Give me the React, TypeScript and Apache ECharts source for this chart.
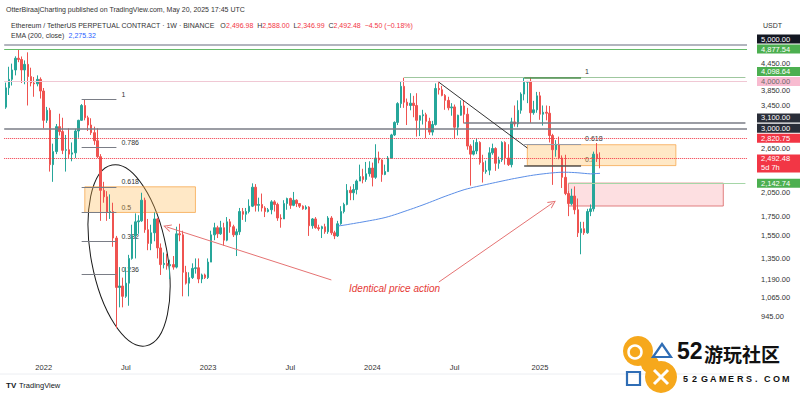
import React, { useEffect, useRef } from 'react';
import * as echarts from 'echarts';

// ---------- DATA ----------
const firstWeekUTC = Date.UTC(2021, 9, 11); // 2021-10-11, first weekly bar
const weeksOnAxis = 235; // includes empty future weeks on the right

// weekly OHLC as [open, close, low, high]
const ohlc2021 = [
  [3415, 3845, 3380, 3970], [3845, 4050, 3680, 4375], [4050, 4290, 3900, 4460], [4290, 4610, 4150, 4665],
  [4610, 4575, 4500, 4868], [4575, 4290, 3960, 4660], [4290, 4440, 3930, 4550], [4440, 4120, 3450, 4780],
  [4120, 3960, 3880, 4350], [3960, 3940, 3640, 4110], [3940, 4050, 3880, 4150], [4050, 3770, 3600, 4100],
];
const ohlc2022 = [
  [3770, 3150, 3000, 3840], [3150, 3350, 3100, 3420], [3350, 2400, 2300, 3400], [2400, 2600, 2160, 2730],
  [2600, 3030, 2560, 3080], [3030, 2940, 2870, 3280], [2940, 2620, 2560, 3200], [2620, 2630, 2300, 2880],
  [2630, 2560, 2500, 3000], [2560, 2580, 2450, 2750], [2580, 2950, 2500, 2990], [2950, 3150, 2830, 3160],
  [3150, 3450, 3140, 3480], [3450, 3200, 3150, 3580], [3200, 3060, 2950, 3240], [3060, 2920, 2880, 3190],
  [2920, 2780, 2710, 3030], [2780, 2520, 2500, 3000], [2520, 2050, 1700, 2560], [2050, 1970, 1900, 2160],
  [1970, 1790, 1700, 2040], [1790, 1800, 1720, 2000], [1800, 1530, 1450, 1900], [1530, 1130, 880, 1550],
  [1130, 1140, 1000, 1280], [1140, 1070, 1000, 1200], [1070, 1160, 1060, 1280], [1160, 1350, 1010, 1380],
  [1350, 1550, 1340, 1660], [1550, 1690, 1350, 1780], [1690, 1700, 1570, 1760], [1700, 1930, 1690, 2020],
  [1930, 1610, 1580, 1960], [1610, 1480, 1420, 1720], [1480, 1580, 1420, 1660], [1580, 1720, 1500, 1790],
  [1720, 1440, 1350, 1730], [1440, 1300, 1220, 1480], [1300, 1310, 1270, 1400], [1310, 1290, 1260, 1390],
  [1290, 1300, 1190, 1340], [1300, 1280, 1260, 1370], [1280, 1570, 1270, 1640], [1570, 1560, 1500, 1670],
  [1560, 1240, 1070, 1600], [1240, 1160, 1150, 1290], [1160, 1200, 1070, 1240], [1200, 1270, 1190, 1310],
  [1270, 1275, 1230, 1350], [1275, 1190, 1160, 1350], [1190, 1220, 1160, 1230], [1220, 1200, 1190, 1230],
];
const ohlc2023 = [
  [1200, 1320, 1190, 1350], [1320, 1560, 1320, 1600], [1560, 1630, 1510, 1680], [1630, 1570, 1530, 1650],
  [1570, 1630, 1560, 1700], [1630, 1510, 1460, 1680], [1510, 1690, 1500, 1740], [1690, 1640, 1580, 1720],
  [1640, 1560, 1540, 1660], [1560, 1590, 1370, 1620], [1590, 1800, 1560, 1840], [1800, 1770, 1710, 1840],
  [1770, 1800, 1690, 1840], [1800, 1860, 1780, 1940], [1860, 2090, 1850, 2140], [2090, 1870, 1800, 2130],
  [1870, 1880, 1800, 1960], [1880, 1840, 1800, 2010], [1840, 1800, 1740, 1860], [1800, 1820, 1790, 1840],
  [1820, 1910, 1770, 1930], [1910, 1880, 1800, 1930], [1880, 1730, 1700, 1900], [1730, 1720, 1630, 1770],
  [1720, 1890, 1720, 1930], [1890, 1950, 1820, 1960], [1950, 1870, 1830, 1960], [1870, 1930, 1860, 2030],
  [1930, 1890, 1850, 1940], [1890, 1860, 1840, 1890], [1860, 1830, 1820, 1870], [1830, 1850, 1820, 1870],
  [1850, 1650, 1550, 1860], [1650, 1720, 1620, 1730], [1720, 1630, 1620, 1740], [1630, 1620, 1600, 1660],
  [1620, 1640, 1530, 1650], [1640, 1590, 1570, 1670], [1590, 1730, 1570, 1750], [1730, 1580, 1560, 1750],
  [1580, 1550, 1520, 1600], [1550, 1670, 1540, 1700], [1670, 1800, 1660, 1860], [1800, 1880, 1780, 1900],
  [1880, 2050, 1870, 2130], [2050, 2020, 1930, 2100], [2020, 2060, 1930, 2130], [2060, 2170, 2000, 2190],
  [2170, 2230, 2170, 2400], [2230, 2190, 2140, 2340], [2190, 2270, 2160, 2440], [2270, 2350, 2230, 2450],
];
const ohlc2024 = [
  [2350, 2220, 2100, 2430], [2220, 2500, 2200, 2720], [2500, 2470, 2420, 2600], [2470, 2260, 2160, 2480],
  [2260, 2300, 2250, 2400], [2300, 2500, 2300, 2530], [2500, 2880, 2490, 2900], [2880, 3110, 2860, 3130],
  [3110, 3490, 3060, 3520], [3490, 3880, 3400, 3990], [3880, 3520, 3400, 4090], [3520, 3450, 3060, 3600],
  [3450, 3500, 3350, 3720], [3500, 3450, 3210, 3660], [3450, 3150, 2850, 3720], [3150, 3240, 2860, 3250],
  [3240, 3260, 3070, 3360], [3260, 3130, 2820, 3300], [3130, 2930, 2880, 3200], [2930, 3070, 2870, 3140],
  [3070, 3830, 3050, 3950], [3830, 3800, 3690, 3980], [3800, 3670, 3650, 3890], [3670, 3560, 3360, 3700],
  [3560, 3400, 3350, 3640], [3400, 3420, 3240, 3500], [3420, 3020, 2810, 3470], [3020, 3250, 2870, 3260],
  [3250, 3440, 3240, 3560], [3440, 3270, 3090, 3560], [3270, 2690, 2630, 3400], [2690, 2560, 2110, 2720],
  [2560, 2610, 2540, 2790], [2610, 2750, 2560, 2820], [2750, 2430, 2400, 2770], [2430, 2300, 2150, 2550],
  [2300, 2320, 2270, 2460], [2320, 2580, 2250, 2670], [2580, 2650, 2550, 2730], [2650, 2420, 2310, 2670],
  [2420, 2470, 2340, 2520], [2470, 2750, 2440, 2770], [2750, 2500, 2400, 2770], [2500, 2400, 2380, 2720],
  [2400, 3120, 2360, 3200], [3120, 3080, 3030, 3450], [3080, 3350, 3020, 3560], [3350, 3700, 3280, 3740],
  [3700, 3980, 3560, 4100], [3980, 4000, 3500, 4010], [4000, 3300, 3100, 4110], [3300, 3360, 3260, 3550],
  [3360, 3660, 3300, 3750],
];
const ohlc2025 = [
  [3660, 3270, 3160, 3750], [3270, 3310, 3050, 3450], [3310, 3290, 3150, 3450], [3290, 2870, 2750, 3440],
  [2870, 2630, 2120, 2900], [2630, 2720, 2520, 2790], [2720, 2500, 2480, 2850], [2500, 2220, 2080, 2540],
  [2220, 2010, 1990, 2550], [2010, 1890, 1750, 2040], [1890, 1980, 1870, 2070], [1980, 1820, 1770, 2100],
  [1820, 1580, 1540, 1950], [1580, 1620, 1385, 1690], [1620, 1580, 1560, 1690], [1580, 1800, 1570, 1830],
  [1800, 1830, 1750, 1880], [1830, 2560, 1800, 2600], [2560, 2490, 2440, 2740], [2496.98, 2492.48, 2346.99, 2588.0],
];
const lastBar = { open: 2496.98, high: 2588.0, low: 2346.99, close: 2492.48, change: -4.5, changePct: -0.18 };

// EMA(200, close), weekly, starting at this bar
const emaStartDate = '2023-10-16';
const ema200 = [
  1647, 1651, 1656, 1661, 1667, 1672, 1678, 1683, 1689, 1695, 1701, 1707, 1713, 1720, 1727, 1735,
  1744, 1754, 1765, 1776, 1788, 1800, 1812, 1824, 1836, 1849, 1862, 1875, 1889, 1903, 1917, 1932,
  1947, 1962, 1976, 1990, 2004, 2018, 2032, 2045, 2058, 2069, 2079, 2089, 2098, 2107, 2116, 2125,
  2134, 2143, 2152, 2161, 2170, 2179, 2188, 2197, 2205, 2213, 2221, 2229, 2237, 2244, 2251, 2257,
  2263, 2268, 2273, 2278, 2282, 2286, 2289, 2291, 2291, 2290, 2288, 2286, 2283, 2279, 2275, 2271,
  2268, 2270, 2273, 2275.32,
];

// price scale
const axisTicks = [4450, 3850, 3450, 2650, 2050, 1750, 1550, 1350, 1190, 1065, 945];
const badgeValues = [5000, 4877.54, 4098.64, 4000, 3100, 3000, 2820.75, 2492.48, 2142.74];
const badgeKinds = ['black', 'green', 'green', 'pink', 'dark', 'dark', 'red', 'red', 'green'];
const countdown = '5d 7h';

// drawings
const fullLines = [5000, 4877.54, 4000, 3000, 2820.75, 2492.48];
const rayLines = [
  { from: '2024-03-11', value: 4098.64 },
  { from: '2024-07-22', value: 3100 },
  { from: '2025-03-10', value: 2142.74 },
];
const fibLeftLevels = [3590, 2665, 2095, 1790, 1500, 1225];
const fibLeftNames = ['1', '0.786', '0.618', '0.5', '0.382', '0.236'];
const fibLeftSpan = ['2022-03-28', '2022-06-13'];
const fibRightLevels = [4100, 2712, 2386];
const fibRightNames = ['1', '0.618', '0.5'];
const fibRightSpan = ['2024-12-02', '2025-04-07'];
const boxes = [
  { kind: 'zone', from: '2022-04-04', to: '2022-12-05', top: 2095, bottom: 1790 },
  { kind: 'zone', from: '2024-12-09', to: '2025-11-03', top: 2712, bottom: 2386 },
  { kind: 'supply', from: '2025-03-10', to: '2026-02-16', top: 2142.74, bottom: 1862 },
];
const trendLine = [{ date: '2024-05-27', value: 3980 }, { date: '2024-12-09', value: 2658 }];
const arrows = [
  [{ date: '2023-10-02', value: 1183 }, { date: '2022-10-03', value: 1637 }],
  [{ date: '2024-05-27', value: 1168 }, { date: '2025-02-03', value: 1897 }],
];
const noteText = 'Identical price action';
const notePoint = { date: '2024-02-19', value: 1126 };
const ellipseCenter = { date: '2022-07-11', value: 1375 };

// ---------- HELPERS ----------
const dates: string[] = [];
for (let i = 0; i < weeksOnAxis; i++) {
  dates.push(new Date(firstWeekUTC + i * 7 * 86400000).toISOString().slice(0, 10));
}
const ohlc = [...ohlc2021, ...ohlc2022, ...ohlc2023, ...ohlc2024, ...ohlc2025];
const lastIndex = ohlc.length - 1;
const emaStartIdx = dates.indexOf(emaStartDate);
const emaData = ohlc.map((_, i) => (i >= emaStartIdx ? ema200[i - emaStartIdx] : null));
const idx = (d: string) => dates.indexOf(d);
const fmt = (v: number) => v.toLocaleString('en-US', { minimumFractionDigits: 2, maximumFractionDigits: 2 });

const UP = '#26a69a';
const DOWN = '#ef5350';
const FONT = '"Liberation Sans", Arial, sans-serif';
const badgeStyle: Record<string, { bg: string; fg: string }> = {
  black: { bg: '#131722', fg: '#ffffff' },
  green: { bg: '#4caf50', fg: '#ffffff' },
  pink: { bg: '#f8bbd0', fg: '#6b6b6b' },
  dark: { bg: '#2a2e39', fg: '#ffffff' },
  red: { bg: '#f23645', fg: '#ffffff' },
};
const badgeNudge = [-6, 0, -6, 0, -5, 0, 0, 5, 0];
const tickNudge: Record<number, number> = { 3850: 3, 2050: 2 };
const fullLineStyle = [
  { color: '#b2b5be', width: 2, type: 'solid' },
  { color: '#66bb6a', width: 1, type: 'solid' },
  { color: '#f0c8d4', width: 1, type: 'solid' },
  { color: '#7a7d86', width: 1.5, type: 'solid' },
  { color: '#f23645', width: 1, type: 'dotted' },
  { color: '#f23645', width: 1, type: 'dotted' },
];
const rayStyle = [
  { color: '#9fc79f', width: 1, type: 'solid' },
  { color: '#7a7d86', width: 1.5, type: 'solid' },
  { color: '#a5d6a7', width: 1, type: 'solid' },
];
const chevron = 'path://M0,10 L5,0 L10,10 L8.6,10 L5,2.8 L1.4,10 Z';

export default function App() {
  const ref = useRef<HTMLDivElement>(null);

  useEffect(() => {
    if (!ref.current) return;
    const chart = echarts.init(ref.current, undefined, { renderer: 'svg' });

    const lastCat = dates[weeksOnAxis - 1];

    const option: any = {
      animation: false,
      backgroundColor: '#ffffff',
      grid: { left: 4.2, right: 53, top: 30, bottom: 39 },
      xAxis: {
        type: 'category',
        data: dates,
        boundaryGap: true,
        axisLine: { show: false },
        axisTick: { show: false },
        splitLine: { show: false },
        axisLabel: {
          margin: 7,
          fontSize: 7.5,
          color: '#333',
          fontFamily: FONT,
          interval: (i: number, v: string) =>
            i <= lastIndex && (v.slice(5, 7) === '01' || v.slice(5, 7) === '07') && Number(v.slice(8)) <= 7,
          formatter: (v: string) => (v.slice(5, 7) === '01' ? v.slice(0, 4) : 'Jul'),
        },
      },
      yAxis: {
        type: 'log',
        logBase: 10,
        min: 742,
        max: 5482,
        position: 'right',
        axisLine: { show: false },
        axisTick: { show: false },
        axisLabel: { show: false },
        splitLine: { show: false },
      },
      series: [
        {
          type: 'candlestick',
          data: ohlc,
          barWidth: 2,
          itemStyle: { color: UP, color0: DOWN, borderColor: UP, borderColor0: DOWN, borderWidth: 1 },
          markArea: {
            silent: true,
            data: boxes.map((b) => [
              {
                coord: [idx(b.from), b.top],
                itemStyle:
                  b.kind === 'zone'
                    ? { color: 'rgba(255,183,77,0.32)', borderColor: 'rgba(245,158,60,0.7)', borderWidth: 1 }
                    : { color: 'rgba(242,54,69,0.16)', borderColor: 'rgba(214,90,90,0.75)', borderWidth: 1 },
              },
              { coord: [idx(b.to), b.bottom] },
            ]),
          },
          markLine: {
            silent: true,
            symbol: ['none', 'none'],
            label: { show: false },
            data: fullLines.map((v, i) => ({ yAxis: v, lineStyle: fullLineStyle[i] })),
          },
        },
        {
          type: 'line',
          data: emaData,
          showSymbol: false,
          connectNulls: false,
          lineStyle: { color: '#5b8ee6', width: 1 },
          z: 3,
        },
        {
          type: 'line',
          data: [],
          markLine: {
            silent: true,
            symbol: ['none', 'none'],
            label: { show: false },
            lineStyle: { type: 'solid' },
            data: [
              ...rayLines.map((r, i) => [
                { coord: [idx(r.from), r.value], lineStyle: rayStyle[i] },
                { coord: [idx(lastCat), r.value] },
              ]),
              ...fibLeftLevels.map((v) => [
                { coord: [idx(fibLeftSpan[0]), v], lineStyle: { color: '#7a7d86', width: 1, type: 'solid' } },
                { coord: [idx(fibLeftSpan[1]), v] },
              ]),
              ...fibRightLevels.map((v, i) => [
                {
                  coord: [idx(fibRightSpan[0]), v],
                  lineStyle:
                    i === 0
                      ? { color: '#4f8f4f', width: 1.5, type: 'solid' }
                      : { color: i === 1 ? '#9a9da6' : '#555', width: i === 1 ? 1 : 1.5, type: 'solid' },
                },
                { coord: [idx(fibRightSpan[1]), v] },
              ]),
              [
                { coord: [idx(trendLine[0].date), trendLine[0].value], lineStyle: { color: '#333', width: 1, type: 'solid' } },
                { coord: [idx(trendLine[1].date), trendLine[1].value] },
              ],
            ],
          },
        },
        {
          type: 'line',
          data: [],
          markLine: {
            silent: true,
            symbol: ['none', chevron],
            symbolSize: [8, 8],
            label: { show: false },
            lineStyle: { color: '#e57373', width: 1, type: 'solid' },
            data: arrows.map((a) => [
              { coord: [idx(a[0].date), a[0].value] },
              { coord: [idx(a[1].date), a[1].value] },
            ]),
          },
        },
      ],
    };
    chart.setOption(option);

    const P = (i: number, v: number) => chart.convertToPixel({ gridIndex: 0 } as any, [i, v]) as number[];
    const Y = (v: number) => P(0, v)[1];

    const g: any[] = [];
    // header
    g.push({
      type: 'text', x: 6, y: 9,
      style: { text: 'OtterBiraajCharting published on TradingView.com, May 20, 2025 17:45 UTC', fill: '#333', font: `7px ${FONT}`, textVerticalAlign: 'middle' },
    });
    const s = (c: string) => ({ fill: c, color: c, fontSize: 7, fontFamily: FONT });
    g.push({
      type: 'text', x: 11, y: 25,
      style: {
        text:
          `{a|Ethereum / TetherUS PERPETUAL CONTRACT · 1W · BINANCE   O}{b|${fmt(lastBar.open)}}{a|  H}{b|${fmt(lastBar.high)}}` +
          `{a|  L}{b|${fmt(lastBar.low)}}{a|  C}{b|${fmt(lastBar.close)}}{b|  −${fmt(-lastBar.change)} (−${(-lastBar.changePct).toFixed(2)}%)}`,
        rich: { a: s('#333'), b: s('#f23645') },
        textVerticalAlign: 'middle',
      },
    });
    g.push({
      type: 'text', x: 11, y: 35,
      style: {
        text: `{a|EMA (200, close)  }{c|${fmt(ema200[ema200.length - 1])}}`,
        rich: { a: s('#333'), c: s('#2962ff') },
        textVerticalAlign: 'middle',
      },
    });
    g.push({ type: 'text', x: 763, y: 25, style: { text: 'USDT', fill: '#333', font: `7px ${FONT}`, textVerticalAlign: 'middle' } });

    // price scale labels
    axisTicks.forEach((v) => {
      g.push({ type: 'text', x: 761, y: Y(v) + (tickNudge[v] || 0), style: { text: fmt(v), fill: '#333', font: `7.5px ${FONT}`, textVerticalAlign: 'middle' } });
    });
    badgeValues.forEach((v, i) => {
      const st = badgeStyle[badgeKinds[i]];
      const text = v === lastBar.close ? `${fmt(v)}\n${countdown}` : fmt(v);
      g.push({
        type: 'text', x: 757, y: Y(v) + badgeNudge[i],
        style: {
          text, fill: st.fg, font: `7.5px ${FONT}`, lineHeight: 9, textVerticalAlign: 'middle',
          backgroundColor: st.bg, padding: [0, 4, 0, 4], width: 38,
        },
      });
    });

    // fib labels
    const xl = P(idx(fibLeftSpan[1]), 0)[0] + 5;
    fibLeftLevels.forEach((v, i) => {
      g.push({ type: 'text', x: xl, y: Y(v) - 5, style: { text: fibLeftNames[i], fill: '#333', font: `7px ${FONT}`, textVerticalAlign: 'middle' } });
    });
    const xr = P(idx(fibRightSpan[1]), 0)[0] + 4;
    fibRightLevels.forEach((v, i) => {
      g.push({ type: 'text', x: xr, y: Y(v) - 6, style: { text: fibRightNames[i], fill: '#333', font: `7px ${FONT}`, textVerticalAlign: 'middle' } });
    });

    // note
    const np = P(idx(notePoint.date), notePoint.value);
    g.push({
      type: 'text', x: np[0], y: np[1],
      style: { text: noteText, fill: '#e53935', font: `italic 10px ${FONT}`, textAlign: 'center', textVerticalAlign: 'middle' },
    });

    // ellipse
    const ec = P(idx(ellipseCenter.date), ellipseCenter.value);
    g.push({
      type: 'ellipse', x: ec[0], y: ec[1], rotation: 0.185,
      shape: { cx: 0, cy: 0, rx: 38, ry: 92 },
      style: { fill: 'none', stroke: '#1a1a1a', lineWidth: 1 },
    });

    // bottom border + TradingView mark
    g.push({ type: 'line', shape: { x1: 0, y1: 374, x2: 748, y2: 374 }, style: { stroke: '#eceef2', lineWidth: 1 } });
    g.push({ type: 'text', x: 6, y: 385, style: { text: 'TV', fill: '#131722', font: `bold 8px ${FONT}`, textVerticalAlign: 'middle' } });
    g.push({ type: 'text', x: 19, y: 385, style: { text: 'TradingView', fill: '#131722', font: `7.5px ${FONT}`, textVerticalAlign: 'middle' } });

    // watermark
    const orange = '#f6a81c';
    const blue = '#2f6db5';
    g.push({ type: 'circle', shape: { cx: 638, cy: 351, r: 15 }, style: { fill: orange } });
    g.push({ type: 'circle', shape: { cx: 661, cy: 377, r: 16 }, style: { fill: orange } });
    g.push({ type: 'circle', shape: { cx: 650, cy: 364, r: 9 }, style: { fill: orange } });
    g.push({ type: 'circle', shape: { cx: 635, cy: 352, r: 6.5 }, style: { fill: 'none', stroke: '#fff', lineWidth: 2.5 } });
    g.push({ type: 'polygon', shape: { points: [[662, 344], [671, 357], [653, 357]] }, style: { fill: 'none', stroke: blue, lineWidth: 2.2 } });
    g.push({ type: 'rect', shape: { x: 627, y: 372, width: 13, height: 13 }, style: { fill: 'none', stroke: blue, lineWidth: 2.2 } });
    g.push({ type: 'line', shape: { x1: 654, y1: 370, x2: 668, y2: 384 }, style: { stroke: '#fff', lineWidth: 3 } });
    g.push({ type: 'line', shape: { x1: 668, y1: 370, x2: 654, y2: 384 }, style: { stroke: '#fff', lineWidth: 3 } });
    g.push({ type: 'text', x: 677, y: 351, style: { text: '52', fill: '#111', font: `bold 23px ${FONT}`, textVerticalAlign: 'middle' } });
    g.push({ type: 'text', x: 704, y: 353, style: { text: '游玩社区', fill: '#111', font: `bold 19px "Noto Sans CJK SC", sans-serif`, textVerticalAlign: 'middle' } });
    '52GAMERS.COM'.split('').forEach((ch, i) => {
      g.push({ type: 'text', x: 683 + i * 9, y: 379, style: { text: ch, fill: '#111', font: `bold 9px ${FONT}`, textVerticalAlign: 'middle' } });
    });

    chart.setOption({ graphic: g });

    return () => chart.dispose();
  }, []);

  return (
    <div
      ref={ref}
      style={{ position: 'fixed', left: 0, top: 0, width: 800, height: 395, background: '#fff' }}
    />
  );
}
